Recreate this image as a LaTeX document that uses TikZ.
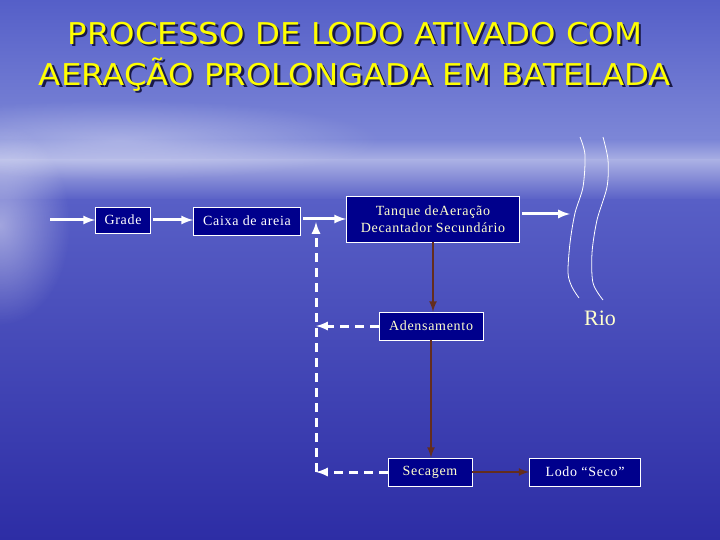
\documentclass[tikz,border=0pt]{standalone}
\usepackage{fontspec}
\setmainfont{Liberation Serif}
\newfontfamily\titlefont{DejaVu Sans}
\usetikzlibrary{fadings}

\definecolor{fundo1}{RGB}{85,95,200}
\definecolor{fundo2}{RGB}{125,135,215}
\definecolor{fundo3}{RGB}{170,176,228}
\definecolor{fundo4}{RGB}{88,95,198}
\definecolor{fundo5}{RGB}{45,45,165}
\definecolor{boxblue}{RGB}{0,0,140}
\definecolor{cream}{RGB}{255,255,205}
\definecolor{titleyellow}{RGB}{255,255,0}
\definecolor{titleshadow}{RGB}{25,25,70}
\definecolor{lodobrown}{RGB}{100,45,30}

\tikzfading[name=brilho, inner color=transparent!0, outer color=transparent!100]

\newcommand{\sombreado}[1]{\makebox[0pt][l]{\hspace{2pt}\raisebox{-2pt}{\textcolor{titleshadow}{#1}}}#1}

\tikzset{
  etapa/.style={draw=white, line width=0.8pt, fill=boxblue, minimum height=28pt,
    inner sep=0pt, align=center,
    font=\fontsize{14}{17}\selectfont\addfontfeatures{LetterSpace=5}},
  titulo/.style={text=titleyellow, font=\titlefont\fontsize{30}{34}\selectfont},
  fluxo/.style={-latex, white, line width=3pt, shorten <=2pt},
  retorno/.style={-latex, white, line width=3pt, dash pattern=on 9pt off 6pt},
  lodo/.style={-latex, lodobrown, line width=2.5pt},
  margem/.style={white, line width=0.8pt},
}

\begin{document}
\begin{tikzpicture}[x=1pt, y=-1pt]
	% fundo
	\useasboundingbox (0,0) rectangle (720,540);
	\shade[top color=fundo1, bottom color=fundo2] (0,0) rectangle (720,140.5);
	\shade[top color=fundo2, bottom color=fundo3] (0,140) rectangle (720,160.5);
	\shade[top color=fundo3, bottom color=fundo4] (0,160) rectangle (720,200.5);
	\shade[top color=fundo4, bottom color=fundo5] (0,200) rectangle (720,540);
	\fill[white, opacity=0.45, path fading=brilho] (0,225) ellipse (70 and 100);
	\fill[white, opacity=0.35, path fading=brilho] (120,140) ellipse (260 and 40);

	% titulo
	\node[titulo] (titulo1) at (355,35) {\scalebox{1.08}[1]{\sombreado{PROCESSO DE LODO ATIVADO COM}}};
	\node[titulo] (titulo2) at (355,76) {\scalebox{1.08}[1]{\sombreado{AERAÇÃO PROLONGADA EM BATELADA}}};

	% etapas
	\node[etapa, minimum width=55pt, minimum height=26pt, text=white] (grade) at (123,220) {Grade};
	\node[etapa, minimum width=107pt, text=white] (caixa) at (247,221) {Caixa de areia};
	\node[etapa, minimum width=173pt, minimum height=46pt, text=cream] (tanque) at (433,219) {Tanque deAeração\\Decantador Secundário};
	\node[etapa, minimum width=104pt, text=cream] (adens) at (431,326) {Adensamento};
	\node[etapa, minimum width=84pt, text=cream] (secagem) at (430,472) {Secagem};
	\node[etapa, minimum width=111pt, text=white] (seco) at (585,472) {Lodo “Seco”};

	% rio
	\draw[margem] plot[smooth] coordinates {(580,137) (585,155) (583,187) (575,213) (570,243) (568,273) (572,287) (579,298)};
	\draw[margem] plot[smooth] coordinates {(603,137) (608,160) (607,187) (597,220) (592,253) (593,283) (603,300)};
	\node[font=\fontsize{22}{26}\selectfont, text=cream] (rio) at (600,318) {Rio};

	% fluxo principal
	\coordinate (entrada) at (48,220);
	\coordinate (foz) at (570,214);
	\draw[fluxo] (entrada) -- (grade.west);
	\draw[fluxo] (grade.east) -- (caixa.west |- grade.east);
	\draw[fluxo] (caixa.east |- tanque.west) -- (tanque.west);
	\draw[fluxo] (tanque.east |- foz) -- (foz);

	% lodo
	\draw[lodo] (tanque.south) -- (tanque.south |- adens.north);
	\draw[lodo] (adens.south) -- (adens.south |- secagem.north);
	\draw[lodo] (secagem.east) -- (seco.west);

	% retorno
	\coordinate (canto) at (316,472);
	\coordinate (juncao) at (316,222);
	\draw[retorno] (secagem.west) -- (canto);
	\draw[retorno] (canto) -- (juncao);
	\draw[retorno] (adens.west) -- (adens.west -| canto);
\end{tikzpicture}
\end{document}
